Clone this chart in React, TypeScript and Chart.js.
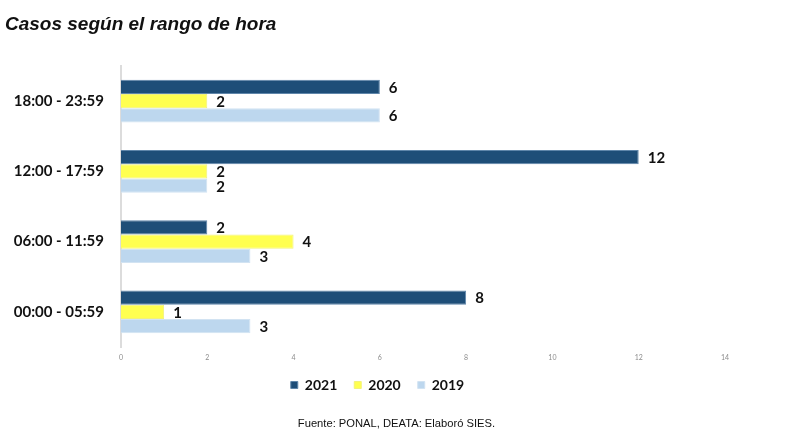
import React, { useEffect, useRef } from "react";
import { Chart, registerables } from "chart.js";

Chart.register(...registerables);

const categories = ["18:00 - 23:59", "12:00 - 17:59", "06:00 - 11:59", "00:00 - 05:59"];
const series2021 = [6, 12, 2, 8];
const series2020 = [2, 2, 4, 1];
const series2019 = [6, 2, 3, 3];
const xTicks = [0, 2, 4, 6, 8, 10, 12, 14];

const valueLabels = {
  id: "valueLabels",
  afterDatasetsDraw(chart: any) {
    const ctx = chart.ctx;
    ctx.save();
    ctx.font = "bold 15px Lato, 'Open Sans', sans-serif";
    ctx.fillStyle = "#111111";
    ctx.textAlign = "left";
    ctx.textBaseline = "middle";
    chart.data.datasets.forEach((ds: any, di: number) => {
      const meta = chart.getDatasetMeta(di);
      meta.data.forEach((bar: any, i: number) => {
        ctx.fillText(String(ds.data[i]), bar.x + 9, bar.y + 1);
      });
    });
    ctx.restore();
  },
};

const shiftLegend = {
  id: "shiftLegend",
  afterLayout(chart: any) {
    const lg = chart.legend;
    if (lg) {
      lg.left += 15;
      lg.right += 15;
    }
  },
};

export default function App() {
  const ref = useRef<HTMLCanvasElement | null>(null);

  useEffect(() => {
    document.body.style.margin = "0";
    if (!ref.current) return;
    const chart = new Chart(ref.current, {
      type: "bar",
      data: {
        labels: categories,
        datasets: [
          { label: "2021", data: series2021, backgroundColor: "#1E4E78", borderColor: "#5F86AA", borderWidth: 1 },
          { label: "2020", data: series2020, backgroundColor: "#FFFF50", borderColor: "#F2F27A", borderWidth: 1 },
          { label: "2019", data: series2019, backgroundColor: "#BDD7EE", borderColor: "#D2E3F2", borderWidth: 1 },
        ],
      },
      options: {
        indexAxis: "y",
        animation: false,
        responsive: false,
        devicePixelRatio: 1,
        layout: { padding: { top: 66, left: 0, right: 63, bottom: 36 } },
        datasets: { bar: { categoryPercentage: 0.61, barPercentage: 1 } },
        scales: {
          x: {
            min: 0,
            max: 14,
            afterBuildTicks: (scale: any) => {
              scale.ticks = xTicks.map((v) => ({ value: v }));
            },
            grid: { display: false, drawTicks: false },
            border: { display: false },
            ticks: { font: { size: 7, family: "Lato, sans-serif" }, color: "#8c8c8c", padding: 7 },
            afterFit: (scale: any) => {
              scale.height = 14;
            },
          },
          y: {
            grid: { display: false, drawTicks: false },
            border: { display: true, color: "#dcdcdc", width: 2 },
            ticks: { font: { size: 15, weight: "bold", family: "Lato, sans-serif" }, color: "#111111", padding: 17 },
            afterFit: (scale: any) => {
              scale.width = 121;
            },
          },
        },
        plugins: {
          legend: {
            position: "bottom",
            labels: {
              boxWidth: 7,
              boxHeight: 7,
              padding: 17,
              color: "#111111",
              font: { size: 14, weight: "bold", family: "Lato, sans-serif" },
            },
          },
          tooltip: { enabled: false },
          title: { display: false },
        },
      },
      plugins: [valueLabels, shiftLegend],
    } as any);
    return () => chart.destroy();
  }, []);

  return (
    <div style={{ position: "relative", width: 788, height: 438, background: "#fff" }}>
      <canvas ref={ref} width={788} height={438} style={{ position: "absolute", left: 0, top: 0 }} />
      <div
        style={{
          position: "absolute",
          left: 5,
          top: 13,
          fontFamily: "'Liberation Sans', Arial, sans-serif",
          fontWeight: "bold",
          fontStyle: "italic",
          fontSize: 19,
          color: "#111",
          whiteSpace: "nowrap",
        }}
      >
        Casos según el rango de hora
      </div>
      <div
        style={{
          position: "absolute",
          left: 0,
          width: 793,
          top: 416.5,
          textAlign: "center",
          fontFamily: "'Liberation Sans', Arial, sans-serif",
          fontSize: 11.2,
          color: "#111",
          whiteSpace: "nowrap",
        }}
      >
        Fuente: PONAL, DEATA: Elaboró SIES.
      </div>
    </div>
  );
}
